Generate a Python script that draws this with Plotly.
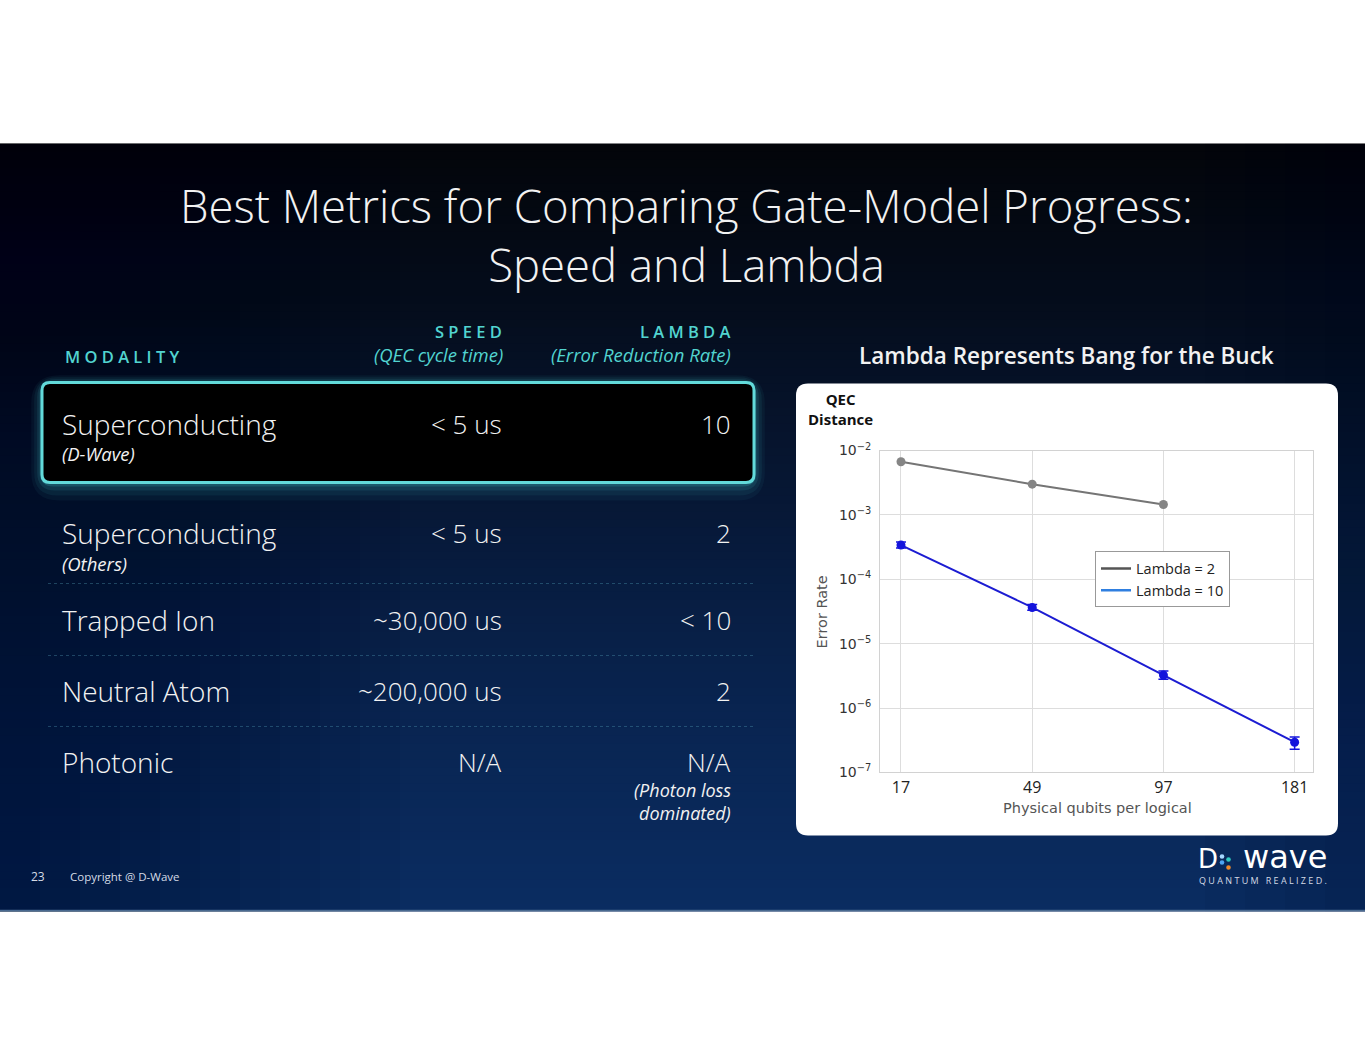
import plotly.graph_objects as go

W, H = 1365, 1055


def px(x):
    return x / W


def py(y):
    # the page is photographed slightly squeezed vertically; pre-correct for it
    return 1 - ((y - 9.42) / 0.9831) / H


# ---- chart data ----
qubits = ["17", "49", "97", "181"]
distances = ["D=3", "D=5", "D=7", "D=9"]
lambda2_rate = [6.7e-3, 3.0e-3, 1.45e-3]
lambda10_rate = [3.4e-4, 3.65e-5, 3.25e-6, 2.95e-7]
lambda10_hi = [3.8e-4, 4.05e-5, 3.75e-6, 3.55e-7]
lambda10_lo = [3.05e-4, 3.3e-5, 2.8e-6, 2.3e-7]
ytick_vals = [1e-7, 1e-6, 1e-5, 1e-4, 1e-3, 1e-2]
ytick_text = ["10<sup>\u22127</sup>", "10<sup>\u22126</sup>", "10<sup>\u22125</sup>",
              "10<sup>\u22124</sup>", "10<sup>\u22123</sup>", "10<sup>\u22122</sup>"]

# ---- table data ----
modalities = ["Superconducting", "Superconducting", "Trapped Ion", "Neutral Atom", "Photonic"]
modality_notes = ["(D-Wave)", "(Others)", "", "", ""]
speeds = ["< 5 us", "< 5 us", "~30,000 us", "~200,000 us", "N/A"]
lambdas = ["10", "2", "< 10", "2", "N/A"]
lambda_notes = [[], [], [], [], ["(Photon loss", "dominated)"]]

row_y = [423, 533, 620, 691, 762]
sep_y = [583, 655, 726]

TEAL = "#52d4d0"
WHITE = "#f2f2f2"
FONT = "Open Sans"


def rrect(x0, y0, x1, y1, r):
    # rounded rectangle path in paper coords (pixel inputs)
    X = lambda v: f"{px(v):.5f}"
    Y = lambda v: f"{py(v):.5f}"
    return (f"M {X(x0 + r)},{Y(y0)} L {X(x1 - r)},{Y(y0)} Q {X(x1)},{Y(y0)} {X(x1)},{Y(y0 + r)} "
            f"L {X(x1)},{Y(y1 - r)} Q {X(x1)},{Y(y1)} {X(x1 - r)},{Y(y1)} "
            f"L {X(x0 + r)},{Y(y1)} Q {X(x0)},{Y(y1)} {X(x0)},{Y(y1 - r)} "
            f"L {X(x0)},{Y(y0 + r)} Q {X(x0)},{Y(y0)} {X(x0 + r)},{Y(y0)} Z")


fig = go.Figure()

# error-rate lines
fig.add_trace(go.Scatter(
    x=qubits[:3], y=lambda2_rate, mode="lines+markers",
    line=dict(color="#757575", width=2),
    marker=dict(color="#858585", size=9),
    showlegend=False
))
fig.add_trace(go.Scatter(
    x=qubits, y=lambda10_rate, mode="lines+markers",
    line=dict(color="#1c1cd2", width=2),
    marker=dict(color="#1414dc", size=9),
    error_y=dict(type="data", symmetric=False,
                 array=[h - v for h, v in zip(lambda10_hi, lambda10_rate)],
                 arrayminus=[v - l for v, l in zip(lambda10_rate, lambda10_lo)],
                 color="#1414dc", thickness=1.5, width=5),
    showlegend=False
))
# legend entries
fig.add_trace(go.Scatter(x=[None], y=[None], mode="lines", name="Lambda = 2",
                         line=dict(color="#555555", width=2.5)))
fig.add_trace(go.Scatter(x=[None], y=[None], mode="lines", name="Lambda = 10",
                         line=dict(color="#2f7fe0", width=2.5)))

shapes = []
# slide background gradient (horizontal strips)
stops = [(143, (3, 5, 10)), (300, (5, 13, 28)), (500, (7, 24, 54)),
         (700, (9, 36, 80)), (911, (11, 45, 98))]
step = 8
y = 143
while y < 911:
    yc = y + step / 2
    for (ya, ca), (yb, cb) in zip(stops[:-1], stops[1:]):
        if ya <= yc <= yb:
            t = (yc - ya) / (yb - ya)
            c = tuple(int(a + (b - a) * t) for a, b in zip(ca, cb))
            break
    shapes.append(dict(type="rect", xref="paper", yref="paper", layer="below",
                       x0=0, x1=1, y0=py(min(y + step + 1, 911)), y1=py(y),
                       fillcolor=f"rgb{c}", line=dict(width=0)))
    y += step
# darker left edge and slight right-edge falloff
for i in range(10):
    shapes.append(dict(type="rect", xref="paper", yref="paper", layer="below",
                       x0=0, x1=px(40 * (i + 1)), y0=py(911), y1=py(143),
                       fillcolor="rgba(2,8,22,0.045)", line=dict(width=0)))
for i in range(4):
    shapes.append(dict(type="rect", xref="paper", yref="paper", layer="below",
                       x0=px(1365 - 40 * (i + 1)), x1=1, y0=py(911), y1=py(143),
                       fillcolor="rgba(2,8,22,0.035)", line=dict(width=0)))
shapes.append(dict(type="line", xref="paper", yref="paper", layer="below",
                   x0=0, x1=1, y0=py(910), y1=py(910),
                   line=dict(color="#4a6a90", width=1.5)))

# glow around highlighted row
for grow, alpha in [(18, 0.05), (13, 0.07), (8, 0.11), (4, 0.18)]:
    shapes.append(dict(type="path", xref="paper", yref="paper", layer="below",
                       path=rrect(42 - grow * 0.6, 382 - grow * 0.4, 754 + grow * 0.6, 482 + grow, 10 + grow),
                       fillcolor=f"rgba(70,210,215,{alpha})", line=dict(width=0)))
shapes.append(dict(type="path", xref="paper", yref="paper", layer="below",
                   path=rrect(42, 382, 754, 482, 8), fillcolor="#000000",
                   line=dict(color="#62dada", width=3)))
# dotted separators
for sy in sep_y:
    shapes.append(dict(type="line", xref="paper", yref="paper", layer="below",
                       x0=px(48), x1=px(755), y0=py(sy), y1=py(sy),
                       line=dict(color="rgba(90,170,190,0.35)", width=1, dash="dot")))
# white chart card
shapes.append(dict(type="path", xref="paper", yref="paper", layer="below",
                   path=rrect(796, 383, 1338, 835, 12), fillcolor="#ffffff",
                   line=dict(width=0)))
# logo dots
for cx, cy, col in [(1222, 856, "#a6d8ff"), (1222, 862, "#4ea6f5"),
                    (1228.5, 859, "#2fc9c0"), (1228.5, 867, "#f08a2a")]:
    shapes.append(dict(type="circle", xref="paper", yref="paper", layer="above",
                       x0=px(cx - 2.3), x1=px(cx + 2.3), y0=py(cy + 2.3), y1=py(cy - 2.3),
                       fillcolor=col, line=dict(width=0)))

ann = []


def text(x, y, s, size, color=WHITE, xanchor="left", weight=300, style="normal",
         family=FONT, yanchor="middle", align="left", angle=0):
    ann.append(dict(x=px(x), y=py(y), xref="paper", yref="paper", text=s,
                    showarrow=False, xanchor=xanchor, yanchor=yanchor, align=align,
                    textangle=angle,
                    font=dict(family=family, size=size, color=color, weight=weight, style=style)))


# title
text(686, 234, "Best Metrics for Comparing Gate-Model Progress:<br>Speed and Lambda",
     45.5, xanchor="center", align="center")

# table header
text(63, 356, "M O D A L I T Y", 16.5, color=TEAL, weight=600)
text(504, 331, "S P E E D", 16.5, color=TEAL, weight=600, xanchor="right")
text(505, 354, "(QEC cycle time)", 18.5, color=TEAL, weight=400, style="italic", xanchor="right")
text(732, 331, "L A M B D A", 16.5, color=TEAL, weight=600, xanchor="right")
text(733, 354, "(Error Reduction Rate)", 18.5, color=TEAL, weight=400, style="italic", xanchor="right")

# table rows
for i, ry in enumerate(row_y):
    text(60, ry, modalities[i], 28)
    if modality_notes[i]:
        text(60, ry + 30, modality_notes[i], 18.5, weight=400, style="italic")
    text(504, ry, speeds[i], 26, xanchor="right")
    text(733, ry, lambdas[i], 26, xanchor="right")
    for k, note in enumerate(lambda_notes[i]):
        text(733, ry + 28 + 23 * k, note, 18, weight=400, style="italic", xanchor="right")

# chart heading
text(1066, 355, "Lambda Represents Bang for the Buck", 22.5, xanchor="center", weight=600)

# chart labels
text(840, 408, "QEC<br>Distance", 15, color="#111111", xanchor="center", weight=700,
     align="center")
for q, d in zip(qubits, distances):
    ann.append(dict(x=q, xref="x", y=py(418), yref="paper", text=d, showarrow=False,
                    xanchor="center", yanchor="middle",
                    font=dict(family=FONT, size=15, color="#111111")))
text(1097, 808, "Physical qubits per logical", 14.5, color="#555555", xanchor="center",
     family="DejaVu Sans", weight=400)
text(822, 612, "Error Rate", 14.5, color="#555555", xanchor="center", family="DejaVu Sans",
     weight=400, angle=-90)

# footer
text(29, 876, "23", 12, color="#d5dbe6", weight=400)
text(68, 876, "Copyright @ D-Wave", 11.5, color="#d5dbe6", weight=400)
text(1196, 859, "D", 26, color="#ffffff", weight=400, family="DejaVu Sans")
text(1329, 857, "wave", 32, color="#ffffff", weight=400, family="DejaVu Sans", xanchor="right")
text(1263, 880, "Q U A N T U M   R E A L I Z E D .", 9, color="#d5dbe6", weight=400,
     xanchor="center")

fig.update_layout(
    width=W, height=H,
    margin=dict(l=0, r=0, t=0, b=0),
    paper_bgcolor="#ffffff",
    plot_bgcolor="#ffffff",
    shapes=shapes,
    annotations=ann,
    xaxis=dict(
        domain=[px(880), px(1313)], anchor="y",
        type="category", range=[-0.16, 3.14],
        tickfont=dict(family=FONT, size=16, color="#222222"),
        showgrid=True, gridcolor="#dddddd", gridwidth=1,
        showline=True, linecolor="#d2d2d2", mirror=True,
        ticks="", zeroline=False
    ),
    yaxis=dict(
        domain=[py(772), py(450)], anchor="x",
        type="log", range=[-7, -2],
        tickmode="array", tickvals=ytick_vals, ticktext=ytick_text,
        tickfont=dict(family="DejaVu Sans", size=14, color="#333333"),
        ticklabelstandoff=5,
        showgrid=True, gridcolor="#dddddd", gridwidth=1,
        showline=True, linecolor="#d2d2d2", mirror=True,
        ticks="", zeroline=False
    ),
    legend=dict(
        x=px(1095), y=py(551), xanchor="left", yanchor="top",
        bgcolor="#ffffff", bordercolor="#999999", borderwidth=1,
        font=dict(family=FONT, size=14.5, color="#222222"),
        itemwidth=30, tracegroupgap=0
    ),
    showlegend=True
)

fig.write_html("out.html", config={"displayModeBar": False},
               post_script="document.body.style.margin='0';")
